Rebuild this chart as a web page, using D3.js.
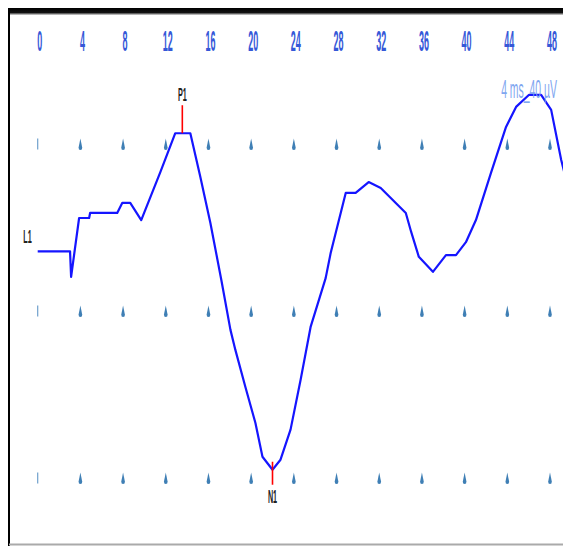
<!DOCTYPE html>
<html>
<head>
<meta charset="utf-8">
<script src="https://cdn.jsdelivr.net/npm/d3@7"></script>
<style>
  body { margin: 0; background: #fff; }
  svg { display: block; }
  text { font-family: "Liberation Sans", Arial, sans-serif; }
</style>
</head>
<body>
<div id="chart"></div>
<script>
// time axis (ms) and grid levels (µV)
const tickLabels = [0, 4, 8, 12, 16, 20, 24, 28, 32, 36, 40, 44, 48];
const gridLevels = [40, 0, -40];

// waveform
const timeMs = [0, 3.03, 3.13, 3.88, 4.82, 4.91, 7.45, 7.92, 8.67, 9.70, 11.49, 12.89, 14.30,
  15.24, 16.18, 17.21, 18.06, 18.52, 19.46, 20.40, 21.06, 22.0, 22.75, 23.69, 24.63, 25.57,
  26.98, 27.45, 28.86, 29.79, 31.01, 32.14, 33.55, 34.49, 35.0, 35.71, 37.03, 38.25, 39.19, 40.12,
  41.06, 42.47, 43.88, 44.82, 46.04, 47.17, 48.11, 49.05, 49.33];
const ampUv = [14.4, 14.4, 8.3, 22.4, 22.4, 23.6, 23.6, 26.0, 26.0, 21.9, 33.4, 42.7, 42.7,
  32.2, 21.2, 7.5, -4.4, -9.2, -18.1, -26.7, -34.8, -37.9, -35.5, -28.3, -16.4, -3.7,
  8.0, 14.0, 28.4, 28.4, 31.0, 29.6, 26.0, 23.6, 19.0, 13.1, 9.5, 13.5, 13.5, 16.6,
  21.9, 33.2, 44.2, 49.0, 51.9, 51.9, 48.3, 36.3, 33.4];

// peak markers
const markerNames = ["P1", "N1"];
const markerMs = [13.55, 22.0];
const markerUv = [42.7, -37.9];
const startLabel = "L1";
const scaleText = "4 ms_40 µV";

const W = 563, H = 546;
const x = d3.scaleLinear().domain([0, 48]).range([37.7, 550]);
const y = d3.scaleLinear().domain([40, -40]).range([144.5, 478.5]);

const svg = d3.select("#chart").append("svg")
  .attr("width", W).attr("height", H);

// frame
const grad = svg.append("defs").append("linearGradient")
  .attr("id", "shade").attr("x1", 0).attr("x2", 0).attr("y1", 0).attr("y2", 1);
grad.append("stop").attr("offset", "0%").attr("stop-color", "#000");
grad.append("stop").attr("offset", "65%").attr("stop-color", "#111");
grad.append("stop").attr("offset", "100%").attr("stop-color", "#ddd");
svg.append("rect").attr("x", 8).attr("y", 8).attr("width", W - 8).attr("height", 7)
  .attr("fill", "url(#shade)");
svg.append("line").attr("x1", 9).attr("x2", 9).attr("y1", 8).attr("y2", H)
  .attr("stroke", "#000").attr("stroke-width", 2);
svg.append("line").attr("x1", 9).attr("x2", W).attr("y1", 544.5).attr("y2", 544.5)
  .attr("stroke", "#aaa").attr("stroke-width", 2);

// squeezed text helper
function narrow(g, tx, ty, str, size, color, sx, weight) {
  g.append("text")
    .attr("transform", `translate(${tx},${ty}) scale(${sx},1)`)
    .attr("text-anchor", "middle")
    .attr("font-size", size)
    .attr("font-weight", weight || "normal")
    .attr("fill", color)
    .text(str);
}

// time labels
const lab = svg.append("g");
tickLabels.forEach(t => narrow(lab, x(t) + 2, 51, t, 30, "#3558d8", 0.3, "bold"));

// grid dots
const dots = svg.append("g");
gridLevels.forEach(v => {
  tickLabels.forEach(t => {
    const cx = x(t), cy = y(v);
    if (t === 0) {
      dots.append("line").attr("x1", cx).attr("x2", cx).attr("y1", cy - 6).attr("y2", cy + 5)
        .attr("stroke", "#6fa0cc").attr("stroke-width", 1.2);
    } else {
      dots.append("path")
        .attr("d", `M${cx},${cy - 6} L${cx + 1.8},${cy + 3} Q${cx + 2},${cy + 5.5} ${cx},${cy + 5.5} Q${cx - 2},${cy + 5.5} ${cx - 1.8},${cy + 3} Z`)
        .attr("fill", "#3f7fb5");
    }
  });
});

// waveform
const pts = timeMs.map((t, i) => [t, ampUv[i]]);
svg.append("path")
  .datum(pts)
  .attr("fill", "none")
  .attr("stroke", "#1515ff")
  .attr("stroke-width", 2.2)
  .attr("stroke-linejoin", "round")
  .attr("d", d3.line().x(d => x(d[0])).y(d => y(d[1])));

// markers
const mk = svg.append("g");
markerNames.forEach((name, i) => {
  const mx = x(markerMs[i]), my = y(markerUv[i]);
  const up = markerUv[i] > 0;
  mk.append("line").attr("x1", mx).attr("x2", mx)
    .attr("y1", up ? my - 28 : my - 8).attr("y2", up ? my : my + 15)
    .attr("stroke", "#f00").attr("stroke-width", 1.6);
  narrow(mk, mx, up ? my - 32 : my + 33, name, 18, "#222", 0.4, "bold");
});
narrow(mk, 27.5, y(ampUv[0]) - 8, startLabel, 18, "#222", 0.4, "bold");

// scale caption
narrow(svg, 529, 98, scaleText, 26, "#7fa6f0", 0.4);
</script>
</body>
</html>
